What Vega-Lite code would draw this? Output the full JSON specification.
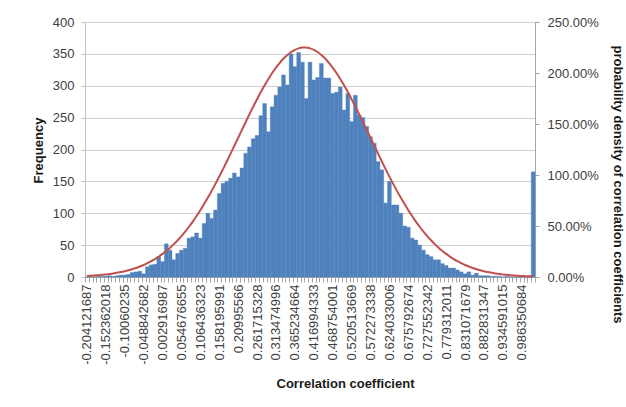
{
  "$schema": "https://vega.github.io/schema/vega-lite/v6.json",
  "autosize": {"type": "none"},
  "width": 450,
  "height": 255,
  "padding": {"left": 85, "top": 22, "right": 91, "bottom": 130},
  "background": "white",
  "config": {
    "view": {"stroke": null},
    "font": "Liberation Sans",
    "axis": {"labelFont": "Liberation Sans", "titleFont": "Liberation Sans", "labelFontSize": 13, "labelColor": "#404040", "titleFontSize": 13, "titleFontWeight": "bold", "titleColor": "#1a1a1a"}
  },
  "data": {"values": [
    {"i":0,"freq":0,"pdf":0.0102},{"i":1,"freq":1,"pdf":0.0123},{"i":2,"freq":0,"pdf":0.0147},{"i":3,"freq":1,"pdf":0.0176},{"i":4,"freq":1,"pdf":0.0210},
    {"i":5,"freq":1,"pdf":0.0250},{"i":6,"freq":2,"pdf":0.0296},{"i":7,"freq":1,"pdf":0.0350},{"i":8,"freq":2,"pdf":0.0412},{"i":9,"freq":3,"pdf":0.0483},
    {"i":10,"freq":3,"pdf":0.0565},{"i":11,"freq":4,"pdf":0.0659},{"i":12,"freq":7,"pdf":0.0766},{"i":13,"freq":8,"pdf":0.0887},{"i":14,"freq":9,"pdf":0.1024},
    {"i":15,"freq":5,"pdf":0.1178},{"i":16,"freq":16,"pdf":0.1352},{"i":17,"freq":19,"pdf":0.1546},{"i":18,"freq":20,"pdf":0.1762},{"i":19,"freq":32,"pdf":0.2001},
    {"i":20,"freq":24,"pdf":0.2265},{"i":21,"freq":52,"pdf":0.2556},{"i":22,"freq":42,"pdf":0.2875},{"i":23,"freq":27,"pdf":0.3223},{"i":24,"freq":37,"pdf":0.3601},
    {"i":25,"freq":42,"pdf":0.4011},{"i":26,"freq":45,"pdf":0.4453},{"i":27,"freq":61,"pdf":0.4927},{"i":28,"freq":63,"pdf":0.5434},{"i":29,"freq":69,"pdf":0.5974},
    {"i":30,"freq":61,"pdf":0.6546},{"i":31,"freq":84,"pdf":0.7150},{"i":32,"freq":100,"pdf":0.7783},{"i":33,"freq":92,"pdf":0.8444},{"i":34,"freq":105,"pdf":0.9133},
    {"i":35,"freq":131,"pdf":0.9845},{"i":36,"freq":147,"pdf":1.0578},{"i":37,"freq":150,"pdf":1.1329},{"i":38,"freq":155,"pdf":1.2094},{"i":39,"freq":163,"pdf":1.2868},
    {"i":40,"freq":157,"pdf":1.3647},{"i":41,"freq":171,"pdf":1.4426},{"i":42,"freq":194,"pdf":1.5200},{"i":43,"freq":204,"pdf":1.5963},{"i":44,"freq":217,"pdf":1.6709},
    {"i":45,"freq":222,"pdf":1.7433},{"i":46,"freq":253,"pdf":1.8130},{"i":47,"freq":272,"pdf":1.8794},{"i":48,"freq":228,"pdf":1.9417},{"i":49,"freq":267,"pdf":1.9996},
    {"i":50,"freq":285,"pdf":2.0526},{"i":51,"freq":298,"pdf":2.1000},{"i":52,"freq":317,"pdf":2.1416},{"i":53,"freq":301,"pdf":2.1768},{"i":54,"freq":350,"pdf":2.2055},
    {"i":55,"freq":330,"pdf":2.2272},{"i":56,"freq":352,"pdf":2.2417},{"i":57,"freq":337,"pdf":2.2491},{"i":58,"freq":280,"pdf":2.2491},{"i":59,"freq":337,"pdf":2.2417},
    {"i":60,"freq":309,"pdf":2.2272},{"i":61,"freq":313,"pdf":2.2055},{"i":62,"freq":335,"pdf":2.1768},{"i":63,"freq":312,"pdf":2.1416},{"i":64,"freq":312,"pdf":2.1000},
    {"i":65,"freq":288,"pdf":2.0526},{"i":66,"freq":290,"pdf":1.9996},{"i":67,"freq":298,"pdf":1.9417},{"i":68,"freq":262,"pdf":1.8794},{"i":69,"freq":288,"pdf":1.8130},
    {"i":70,"freq":244,"pdf":1.7433},{"i":71,"freq":285,"pdf":1.6709},{"i":72,"freq":254,"pdf":1.5963},{"i":73,"freq":250,"pdf":1.5200},{"i":74,"freq":236,"pdf":1.4426},
    {"i":75,"freq":220,"pdf":1.3647},{"i":76,"freq":210,"pdf":1.2868},{"i":77,"freq":181,"pdf":1.2094},{"i":78,"freq":168,"pdf":1.1329},{"i":79,"freq":116,"pdf":1.0578},
    {"i":80,"freq":150,"pdf":0.9845},{"i":81,"freq":113,"pdf":0.9133},{"i":82,"freq":113,"pdf":0.8444},{"i":83,"freq":100,"pdf":0.7783},{"i":84,"freq":80,"pdf":0.7150},
    {"i":85,"freq":78,"pdf":0.6546},{"i":86,"freq":61,"pdf":0.5974},{"i":87,"freq":58,"pdf":0.5434},{"i":88,"freq":50,"pdf":0.4927},{"i":89,"freq":42,"pdf":0.4453},
    {"i":90,"freq":35,"pdf":0.4011},{"i":91,"freq":32,"pdf":0.3601},{"i":92,"freq":27,"pdf":0.3223},{"i":93,"freq":27,"pdf":0.2875},{"i":94,"freq":21,"pdf":0.2556},
    {"i":95,"freq":18,"pdf":0.2265},{"i":96,"freq":14,"pdf":0.2001},{"i":97,"freq":14,"pdf":0.1762},{"i":98,"freq":11,"pdf":0.1546},{"i":99,"freq":8,"pdf":0.1352},
    {"i":100,"freq":5,"pdf":0.1178},{"i":101,"freq":8,"pdf":0.1024},{"i":102,"freq":3,"pdf":0.0887},{"i":103,"freq":6,"pdf":0.0766},{"i":104,"freq":2,"pdf":0.0659},
    {"i":105,"freq":2,"pdf":0.0565},{"i":106,"freq":2,"pdf":0.0483},{"i":107,"freq":1,"pdf":0.0412},{"i":108,"freq":1,"pdf":0.0350},{"i":109,"freq":1,"pdf":0.0296},
    {"i":110,"freq":0,"pdf":0.0250},{"i":111,"freq":1,"pdf":0.0210},{"i":112,"freq":0,"pdf":0.0176},{"i":113,"freq":0,"pdf":0.0147},{"i":114,"freq":0,"pdf":0.0123},
    {"i":115,"freq":0,"pdf":0.0102},{"i":116,"freq":0,"pdf":0.0084},{"i":117,"freq":0,"pdf":0.0070},{"i":118,"freq":165,"pdf":0.0057}
  ]},
  "encoding": {
    "x": {
      "field": "i", "type": "ordinal",
      "scale": {"paddingInner": 0, "paddingOuter": 0},
      "axis": {
        "title": "Correlation coefficient",
        "labelAngle": -90,
        "labelOverlap": false,
        "labelFontSize": 13,
        "labelPadding": 2,
        "tickSize": 5,
        "tickBand": "extent",
        "tickColor": "#a6a6a6",
        "domainColor": "#a6a6a6",
        "labelExpr": "datum.value % 5 == 0 ? ['-0.204121687','-0.152362018','-0.10060235','-0.048842682','0.002916987','0.054676655','0.106436323','0.158195991','0.20995566','0.261715328','0.313474996','0.365234664','0.416994333','0.468754001','0.520513669','0.572273338','0.624033006','0.675792674','0.727552342','0.779312011','0.831071679','0.882831347','0.934591015','0.986350684'][datum.value / 5] : ''",
        "titleX": 260,
        "titleY": 106,
        "titleAlign": "center",
        "titleBaseline": "middle"
      }
    }
  },
  "layer": [
    {
      "mark": {"type": "bar", "color": "#4F81BD", "stroke": "#4F81BD", "strokeWidth": 0.4},
      "encoding": {
        "y": {
          "field": "freq", "type": "quantitative",
          "scale": {"domain": [0, 400], "nice": false},
          "axis": {
            "title": "Frequency",
            "values": [0, 50, 100, 150, 200, 250, 300, 350, 400],
            "grid": true, "gridColor": "#cfcfcf",
            "domainColor": "#bfbfbf",
            "tickColor": "#bfbfbf", "tickSize": 4,
            "labelPadding": 7,
            "titleAngle": -90,
            "titleX": -47,
            "titleY": 128,
            "titleAlign": "center",
            "titleBaseline": "middle"
          }
        }
      }
    },
    {
      "mark": {"type": "line", "color": "#C0504D", "strokeWidth": 2, "interpolate": "monotone"},
      "encoding": {
        "y": {
          "field": "pdf", "type": "quantitative",
          "scale": {"domain": [0, 2.5], "nice": false},
          "axis": {
            "orient": "right",
            "title": "probability density of correlation coefficients",
            "format": ".2%",
            "values": [0, 0.5, 1, 1.5, 2, 2.5],
            "grid": false,
            "domainColor": "#a6a6a6",
            "tickColor": "#a6a6a6", "tickSize": 4,
            "labelPadding": 8,
            "titleAngle": 90,
            "titleX": 82,
            "titleY": 162,
            "titleAlign": "center",
            "titleBaseline": "middle"
          }
        }
      }
    }
  ],
  "resolve": {"scale": {"y": "independent"}}
}
